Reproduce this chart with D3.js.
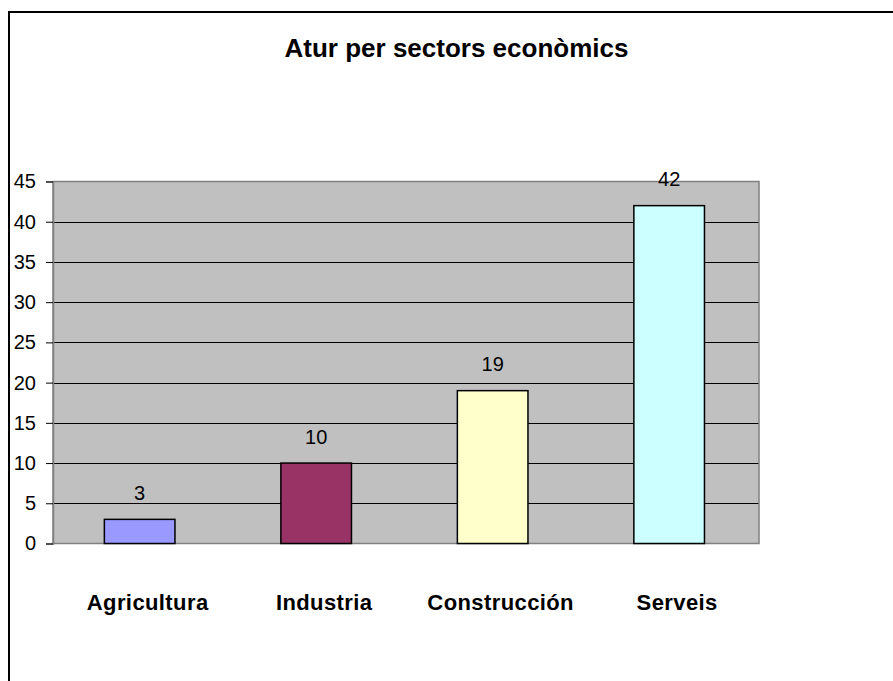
<!DOCTYPE html>
<html>
<head>
<meta charset="utf-8">
<script src="https://cdn.jsdelivr.net/npm/d3@7"></script>
<style>
  html, body { margin: 0; padding: 0; background: #fff; }
  svg { display: block; font-family: "Liberation Sans", Arial, sans-serif; }
</style>
</head>
<body>
<svg id="chart" width="893" height="681"></svg>
<script>
// ---- data ----
const categories = ["Agricultura", "Industria", "Construcción", "Serveis"];
const values = [3, 10, 19, 42];
const yTicks = [0, 5, 10, 15, 20, 25, 30, 35, 40, 45];
const title = "Atur per sectors econòmics";
const barColors = ["#9999ff", "#993366", "#ffffcc", "#ccffff"];

// ---- layout ----
const svg = d3.select("#chart");
const plot = { left: 53, right: 759, top: 181.5, bottom: 543.5 };

// outer chart border (extends past the window on right and bottom)
svg.append("rect")
  .attr("x", 9).attr("y", 12)
  .attr("width", 1000).attr("height", 1000)
  .attr("fill", "#fff").attr("stroke", "#000").attr("stroke-width", 2);

// title
svg.append("text")
  .attr("x", 456.5).attr("y", 57)
  .attr("text-anchor", "middle")
  .attr("font-size", 26).attr("font-weight", "bold")
  .attr("fill", "#000")
  .text(title);

const x = d3.scaleBand()
  .domain(categories)
  .range([plot.left, plot.right])
  .paddingInner(0.6).paddingOuter(0.3).align(0.485);

const y = d3.scaleLinear()
  .domain([0, 45])
  .range([plot.bottom, plot.top]);

// plot area background
svg.append("rect")
  .attr("x", plot.left).attr("y", plot.top)
  .attr("width", plot.right - plot.left).attr("height", plot.bottom - plot.top)
  .attr("fill", "#c0c0c0");

// gridlines
svg.append("g")
  .selectAll("line")
  .data(yTicks.filter(t => t > 0 && t < 45))
  .join("line")
  .attr("x1", plot.left).attr("x2", plot.right)
  .attr("y1", d => Math.round(y(d)) + 0.5).attr("y2", d => Math.round(y(d)) + 0.5)
  .attr("stroke", "#000").attr("stroke-width", 1);

// plot area border
svg.append("rect")
  .attr("x", plot.left).attr("y", plot.top)
  .attr("width", plot.right - plot.left).attr("height", plot.bottom - plot.top)
  .attr("fill", "none").attr("stroke", "#808080").attr("stroke-width", 1.5);

// bars
svg.append("g")
  .selectAll("rect")
  .data(values)
  .join("rect")
  .attr("x", (d, i) => x(categories[i]))
  .attr("y", d => y(d))
  .attr("width", x.bandwidth())
  .attr("height", d => y(0) - y(d))
  .attr("fill", (d, i) => barColors[i])
  .attr("stroke", "#000").attr("stroke-width", 1.5);

// value labels
svg.append("g")
  .selectAll("text")
  .data(values)
  .join("text")
  .attr("x", (d, i) => x(categories[i]) + x.bandwidth() / 2)
  .attr("y", d => y(d) - 19.5)
  .attr("text-anchor", "middle")
  .attr("font-size", 20)
  .attr("fill", "#000")
  .text(d => d);

// y axis
const yAxis = d3.axisLeft(y)
  .tickValues(yTicks)
  .tickSize(7)
  .tickPadding(10)
  .tickFormat(d3.format("d"));
const ya = svg.append("g")
  .attr("transform", `translate(${plot.left},0)`)
  .call(yAxis);
ya.select(".domain").attr("stroke", "#808080").attr("stroke-width", 1.5);
ya.selectAll(".tick line").attr("stroke", "#000");
ya.selectAll(".tick text")
  .attr("font-size", 20)
  .attr("font-family", "'Liberation Sans', Arial, sans-serif")
  .attr("fill", "#000");

// x axis (category labels)
const xAxis = d3.axisBottom(x).tickSize(0).tickPadding(0);
const xa = svg.append("g")
  .attr("transform", `translate(8,0)`)
  .call(xAxis);
xa.select(".domain").remove();
xa.selectAll(".tick text")
  .attr("y", 610)
  .attr("dy", 0)
  .attr("font-size", 22)
  .attr("font-weight", "bold")
  .attr("letter-spacing", 0.4)
  .attr("font-family", "'Liberation Sans', Arial, sans-serif")
  .attr("fill", "#000");
</script>
</body>
</html>
